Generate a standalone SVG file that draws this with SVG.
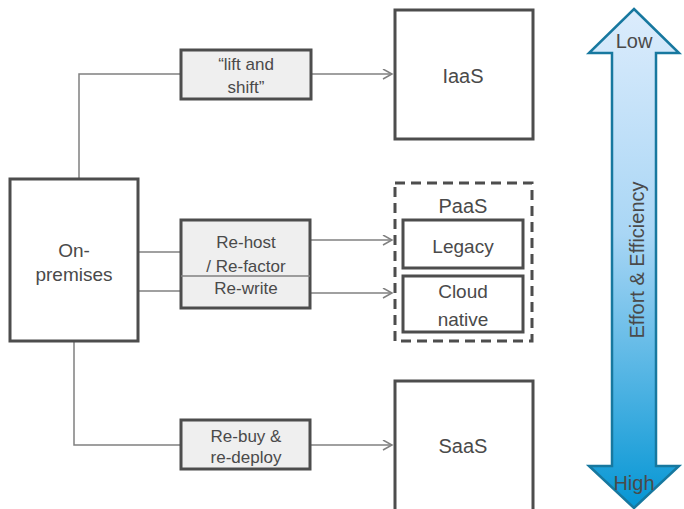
<svg xmlns="http://www.w3.org/2000/svg" width="684" height="509" viewBox="0 0 684 509">
<defs>
<style>
.box{fill:#ffffff;stroke:#4d4d4d;stroke-width:3}
.step{fill:#efefef;stroke:#4d4d4d;stroke-width:3}
.conn{fill:none;stroke:#808080;stroke-width:1.5}
.t{font-family:"Liberation Sans",Arial,sans-serif;fill:#4a4a4a;text-anchor:middle}
.big{font-size:20px}
.mid{font-size:19px}
.sm{font-size:17px}
</style>
<marker id="arr" markerWidth="12" markerHeight="12" refX="10" refY="5" orient="auto" markerUnits="userSpaceOnUse">
<path d="M1,0 L10,5 L1,10" fill="none" stroke="#808080" stroke-width="1.5"/>
</marker>
<linearGradient id="grad" x1="0" y1="0" x2="0" y2="1">
<stop offset="0" stop-color="#dcecfc"/>
<stop offset="0.45" stop-color="#a9d6f5"/>
<stop offset="1" stop-color="#0596d4"/>
</linearGradient>
</defs>

<g id="connectors">
<path class="conn" d="M79,179 V74 H181"/>
<path class="conn" d="M311,74 H392" marker-end="url(#arr)"/>
<path class="conn" d="M139,252 H181"/>
<path class="conn" d="M139,291 H181"/>
<path class="conn" d="M310,240 H392" marker-end="url(#arr)"/>
<path class="conn" d="M310,293 H392" marker-end="url(#arr)"/>
<path class="conn" d="M74,341 V445 H181"/>
<path class="conn" d="M310,445 H392" marker-end="url(#arr)"/>
</g>

<g id="on-premises">
<rect class="box" x="10" y="179" width="128" height="162"/>
<text class="t mid" x="74" y="257">On-</text>
<text class="t mid" x="74" y="281">premises</text>
</g>

<g id="lift-and-shift">
<rect class="step" x="181" y="50" width="130" height="49"/>
<text class="t sm" x="246" y="70">“lift and</text>
<text class="t sm" x="246" y="93">shift”</text>
</g>

<g id="rehost-rewrite">
<rect class="step" x="181" y="220" width="129" height="88"/>
<line x1="181" y1="276" x2="310" y2="276" stroke="#808080" stroke-width="1.5"/>
<text class="t sm" x="246" y="248">Re-host</text>
<text class="t sm" x="246" y="272">/ Re-factor</text>
<text class="t sm" x="246" y="294">Re-write</text>
</g>

<g id="rebuy">
<rect class="step" x="181" y="420" width="129" height="49"/>
<text class="t sm" x="246" y="442">Re-buy &amp;</text>
<text class="t sm" x="246" y="463">re-deploy</text>
</g>

<g id="iaas">
<rect class="box" x="395" y="10" width="138" height="129"/>
<text class="t big" x="463" y="83">IaaS</text>
</g>

<g id="paas">
<rect x="395" y="183" width="137" height="158" fill="none" stroke="#4d4d4d" stroke-width="3" stroke-dasharray="10 6"/>
<text class="t big" x="463" y="213">PaaS</text>
</g>

<g id="legacy">
<rect class="box" x="403" y="220" width="120" height="48"/>
<text class="t mid" x="463" y="253">Legacy</text>
</g>

<g id="cloud-native">
<rect class="box" x="403" y="276" width="120" height="56"/>
<text class="t mid" x="463" y="298">Cloud</text>
<text class="t mid" x="463" y="326">native</text>
</g>

<g id="saas">
<rect class="box" x="395" y="381" width="138" height="140"/>
<text class="t big" x="463" y="453">SaaS</text>
</g>

<g id="effort-arrow">
<polygon points="634,9 679,53 656,53 656,466 679,466 634,508 589,466 612,466 612,53 589,53" fill="url(#grad)" stroke="#17789f" stroke-width="2.5" stroke-linejoin="miter"/>
<text class="t big" x="634" y="48">Low</text>
<text class="t big" x="634" y="490">High</text>
<text class="t big" transform="translate(644,260) rotate(-90)" x="0" y="0">Effort &amp; Efficiency</text>
</g>
</svg>
